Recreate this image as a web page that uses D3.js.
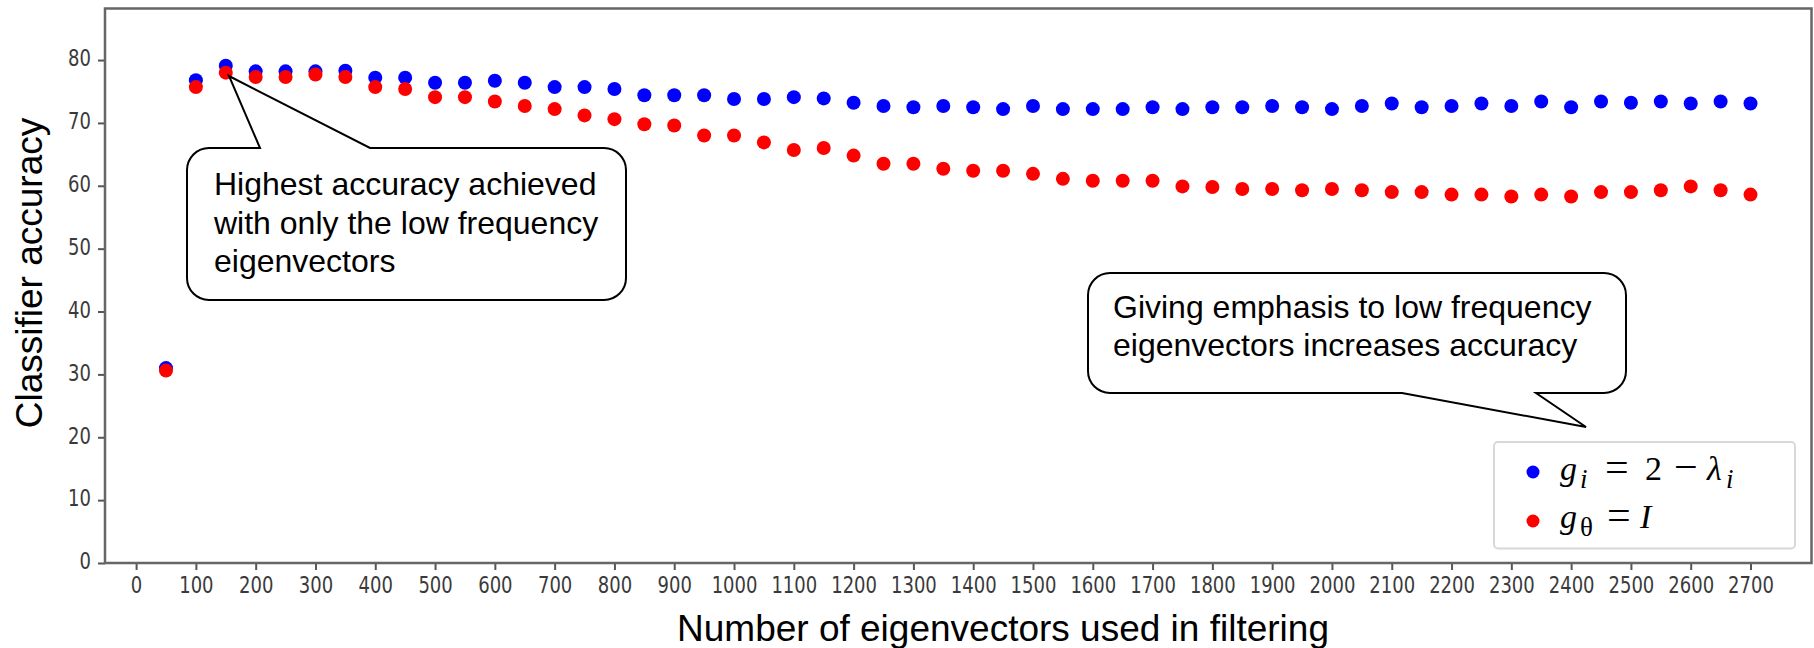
<!DOCTYPE html>
<html>
<head>
<meta charset="UTF-8">
<title>Classifier accuracy vs number of eigenvectors</title>
<script src="https://d3js.org/d3.v7.min.js"></script>
<style>
  body { margin: 0; background: #fff; }
  svg { display: block; background: #fff; }
  .tick text { font-family: "DejaVu Sans", sans-serif; font-size: 18px; fill: #3a3a3a; }
  .tick line { stroke: #555; stroke-width: 2; }
  .note { font-family: "Liberation Sans", Arial, sans-serif; font-size: 32px; fill: #000; }
  .label { font-family: "Liberation Sans", Arial, sans-serif; font-size: 37px; fill: #000; }
  .leg { font-family: "Liberation Serif", serif; font-size: 34px; fill: #000; }
</style>
</head>
<body>
<svg id="chart"></svg>
<script>
// number of eigenvectors kept
const eigenCounts = [50, 100, 150, 200, 250, 300, 350, 400, 450, 500, 550, 600, 650, 700,
  750, 800, 850, 900, 950, 1000, 1050, 1100, 1150, 1200, 1250, 1300, 1350, 1400, 1450,
  1500, 1550, 1600, 1650, 1700, 1750, 1800, 1850, 1900, 1950, 2000, 2050, 2100, 2150,
  2200, 2250, 2300, 2350, 2400, 2450, 2500, 2550, 2600, 2650, 2700];

// g_i = 2 - lambda_i (blue)
const accLowPass = [31.0, 76.8, 79.1, 78.2, 78.2, 78.2, 78.3, 77.2, 77.2, 76.4, 76.4, 76.7,
  76.4, 75.7, 75.7, 75.4, 74.4, 74.4, 74.4, 73.8, 73.8, 74.1, 73.9, 73.2, 72.7, 72.5,
  72.7, 72.5, 72.2, 72.7, 72.2, 72.2, 72.2, 72.5, 72.2, 72.5, 72.5, 72.7, 72.5, 72.2,
  72.7, 73.1, 72.5, 72.7, 73.1, 72.7, 73.4, 72.5, 73.4, 73.2, 73.4, 73.1, 73.4, 73.1];

// g_theta = I (red)
const accIdentity = [30.6, 75.7, 78.0, 77.3, 77.3, 77.7, 77.3, 75.7, 75.4, 74.1, 74.1, 73.4,
  72.7, 72.2, 71.2, 70.6, 69.8, 69.6, 68.0, 68.0, 66.9, 65.7, 66.0, 64.8, 63.5, 63.5,
  62.7, 62.4, 62.4, 61.9, 61.1, 60.8, 60.8, 60.8, 59.9, 59.8, 59.5, 59.5, 59.3, 59.5,
  59.3, 59.0, 59.0, 58.6, 58.6, 58.3, 58.6, 58.3, 59.0, 59.0, 59.3, 59.9, 59.3, 58.6];

const xTicks = [0, 100, 200, 300, 400, 500, 600, 700, 800, 900, 1000, 1100, 1200, 1300,
  1400, 1500, 1600, 1700, 1800, 1900, 2000, 2100, 2200, 2300, 2400, 2500, 2600, 2700];
const yTicks = [0, 10, 20, 30, 40, 50, 60, 70, 80];

const W = 1814, H = 648;
const pl = 105, pr = 1811.5, pt = 8.5, pb = 563;

const svg = d3.select("#chart").attr("width", W).attr("height", H);

const x = d3.scaleLinear().domain([-52, 2802]).range([pl, pr]);
const y = d3.scaleLinear().domain([0, 88.2]).range([pb, pt]);

// axes
const xAxis = svg.append("g")
  .attr("transform", `translate(0,${pb})`)
  .call(d3.axisBottom(x).tickValues(xTicks).tickSize(7).tickFormat(d3.format("d")));
xAxis.select(".domain").remove();
xAxis.selectAll(".tick text")
  .attr("y", 10).attr("dy", "0.71em")
  .attr("transform", "scale(1,1.3)");

const yAxis = svg.append("g")
  .attr("transform", `translate(${pl},0)`)
  .call(d3.axisLeft(y).tickValues(yTicks).tickSize(7));
yAxis.select(".domain").remove();
yAxis.selectAll(".tick text")
  .attr("x", -14)
  .attr("transform", "scale(1,1.3)")
  .attr("y", 0).attr("dy", "0.25em");

// frame
svg.append("rect")
  .attr("x", pl).attr("y", pt)
  .attr("width", pr - pl).attr("height", pb - pt)
  .attr("fill", "none").attr("stroke", "#666").attr("stroke-width", 2.5);

// points
const series = [
  { vals: accLowPass, color: "#0000ff" },
  { vals: accIdentity, color: "#ff0000" }
];
series.forEach(s => {
  svg.append("g").selectAll("circle")
    .data(eigenCounts)
    .join("circle")
    .attr("cx", (d) => x(d))
    .attr("cy", (d, i) => y(s.vals[i]))
    .attr("r", 7)
    .attr("fill", s.color);
});

// legend
const leg = svg.append("g");
leg.append("rect")
  .attr("x", 1494).attr("y", 442).attr("width", 301).attr("height", 106.5)
  .attr("rx", 4).attr("fill", "#fff").attr("stroke", "#d8d8d8").attr("stroke-width", 2);
leg.append("circle").attr("cx", 1533).attr("cy", 472).attr("r", 6.5).attr("fill", "#0000ff");
leg.append("circle").attr("cx", 1533).attr("cy", 521).attr("r", 6.5).attr("fill", "#ff0000");

function put(txt, px, py, opts) {
  const t = leg.append("text").attr("class", "leg").attr("x", px).attr("y", py).text(txt);
  if (opts && opts.italic) t.style("font-style", "italic");
  if (opts && opts.size) t.style("font-size", opts.size + "px");
  return t;
}
// g_i = 2 - λ_i
put("g", 1560, 480, { italic: true });
put("i", 1580, 488, { italic: true, size: 27 });
put("=", 1605, 481, { size: 42 });
put("2", 1645, 480);
put("\u2212", 1674, 481, { size: 42 });
put("\u03bb", 1707, 480, { italic: true });
put("i", 1726, 488, { italic: true, size: 27 });
// g_θ = I
put("g", 1560, 528, { italic: true });
put("\u03b8", 1580, 536, { size: 27 });
put("=", 1607, 529, { size: 42 });
put("I", 1640, 528, { italic: true });

// callouts
function callout(x0, y0, x1, y1, r, side, a, tip, b) {
  const p = d3.path();
  p.moveTo(x0 + r, y0);
  if (side === "top") { p.lineTo(a, y0); p.lineTo(tip[0], tip[1]); p.lineTo(b, y0); }
  p.lineTo(x1 - r, y0);
  p.arcTo(x1, y0, x1, y0 + r, r);
  p.lineTo(x1, y1 - r);
  p.arcTo(x1, y1, x1 - r, y1, r);
  if (side === "bottom") { p.lineTo(b, y1); p.lineTo(tip[0], tip[1]); p.lineTo(a, y1); }
  p.lineTo(x0 + r, y1);
  p.arcTo(x0, y1, x0, y1 - r, r);
  p.lineTo(x0, y0 + r);
  p.arcTo(x0, y0, x0 + r, y0, r);
  p.closePath();
  svg.append("path").attr("d", p.toString())
    .attr("fill", "#fff").attr("stroke", "#000").attr("stroke-width", 2);
}

callout(187, 148, 626, 300, 22, "top", 260, [229, 76], 370);
const n1 = svg.append("text").attr("class", "note");
[["Highest accuracy achieved", 195], ["with only the low frequency", 233.5], ["eigenvectors", 272]]
  .forEach(([s, yy]) => n1.append("tspan").attr("x", 214).attr("y", yy).text(s));

callout(1088, 273, 1626, 393, 22, "bottom", 1402, [1586, 427], 1536);
const n2 = svg.append("text").attr("class", "note");
[["Giving emphasis to low frequency", 318], ["eigenvectors increases accuracy", 356]]
  .forEach(([s, yy]) => n2.append("tspan").attr("x", 1113).attr("y", yy).text(s));

// axis titles
svg.append("text").attr("class", "label")
  .attr("text-anchor", "middle")
  .attr("x", 1003).attr("y", 641)
  .text("Number of eigenvectors used in filtering");
svg.append("text").attr("class", "label")
  .attr("text-anchor", "middle")
  .attr("transform", "translate(42,273) rotate(-90)")
  .text("Classifier accuracy");
</script>
</body>
</html>
